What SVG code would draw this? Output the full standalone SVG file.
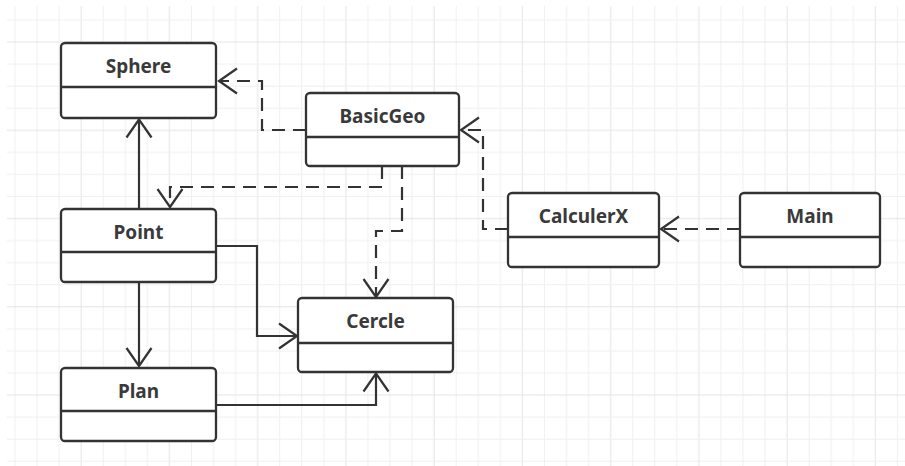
<svg xmlns="http://www.w3.org/2000/svg" width="905" height="466" viewBox="0 0 905 466">
<style>
.box{fill:#fff;stroke:#333;stroke-width:2.3}
.div{stroke:#333;stroke-width:2.3}
.t{font-family:"Noto Sans","Liberation Sans",sans-serif;font-weight:bold;font-size:19px;fill:#3a3a3a;text-anchor:middle}
.c{fill:none;stroke:#333;stroke-width:2.2}
.d{stroke-dasharray:13 8}
</style>
<defs>
<pattern id="grid" x="14.5" y="19.5" width="88.24" height="88.24" patternUnits="userSpaceOnUse">
<rect x="0" y="0" width="1" height="88.24" fill="#f0f0f0"/>
<rect x="22.06" y="0" width="1" height="88.24" fill="#f0f0f0"/>
<rect x="44.12" y="0" width="1" height="88.24" fill="#f0f0f0"/>
<rect x="66.18" y="0" width="1" height="88.24" fill="#e4e4e4"/>
<rect x="0" y="0" width="88.24" height="1" fill="#f0f0f0"/>
<rect x="0" y="22.06" width="88.24" height="1" fill="#e4e4e4"/>
<rect x="0" y="44.12" width="88.24" height="1" fill="#f0f0f0"/>
<rect x="0" y="66.18" width="88.24" height="1" fill="#f0f0f0"/>
</pattern>
<marker id="arr" viewBox="-21 -15 24 30" refX="0" refY="0" markerWidth="24" markerHeight="30" markerUnits="userSpaceOnUse" orient="auto">
<path d="M-18,-12.5 L0,0 L-18,12.5" fill="none" stroke="#333" stroke-width="2.2" stroke-dasharray="none"/>
</marker>
</defs>
<rect width="905" height="466" fill="#fff"/>
<rect x="7" y="6" width="898" height="460" fill="url(#grid)"/>

<g id="connectors">
<path class="c d" d="M306,130 H262 V81 H219" marker-end="url(#arr)"/>
<path class="c d" d="M382,166 V187 H170 V207" marker-end="url(#arr)"/>
<path class="c d" d="M402,166 V231 H376 V297" marker-end="url(#arr)"/>
<path class="c d" d="M508,229 H483 V130 H461" marker-end="url(#arr)"/>
<path class="c d" d="M740,229 H661" marker-end="url(#arr)"/>
<path class="c" d="M139,209 V119.5" marker-end="url(#arr)"/>
<path class="c" d="M139,282 V366" marker-end="url(#arr)"/>
<path class="c" d="M216,246 H257 V336 H297" marker-end="url(#arr)"/>
<path class="c" d="M216,405 H376 V373.5" marker-end="url(#arr)"/>
</g>

<g id="Sphere">
<rect class="box" x="61" y="43" width="155" height="75" rx="4"/>
<line class="div" x1="61" y1="87" x2="216" y2="87"/>
<text class="t" x="138.5" y="72.5">Sphere</text>
</g>
<g id="BasicGeo">
<rect class="box" x="306" y="93" width="153" height="73" rx="4"/>
<line class="div" x1="306" y1="137" x2="459" y2="137"/>
<text class="t" x="382.5" y="122.5">BasicGeo</text>
</g>
<g id="CalculerX">
<rect class="box" x="508" y="193" width="151" height="74" rx="4"/>
<line class="div" x1="508" y1="237" x2="659" y2="237"/>
<text class="t" x="583.5" y="222.5">CalculerX</text>
</g>
<g id="Main">
<rect class="box" x="740" y="193" width="140" height="74" rx="4"/>
<line class="div" x1="740" y1="237" x2="880" y2="237"/>
<text class="t" x="810" y="222.5">Main</text>
</g>
<g id="Point">
<rect class="box" x="61" y="209" width="155" height="73" rx="4"/>
<line class="div" x1="61" y1="252" x2="216" y2="252"/>
<text class="t" x="138.5" y="238.5">Point</text>
</g>
<g id="Cercle">
<rect class="box" x="298" y="298" width="155" height="74" rx="4"/>
<line class="div" x1="298" y1="343" x2="453" y2="343"/>
<text class="t" x="375.5" y="327.5">Cercle</text>
</g>
<g id="Plan">
<rect class="box" x="61" y="368" width="155" height="73" rx="4"/>
<line class="div" x1="61" y1="411" x2="216" y2="411"/>
<text class="t" x="138.5" y="397.5">Plan</text>
</g>
</svg>
